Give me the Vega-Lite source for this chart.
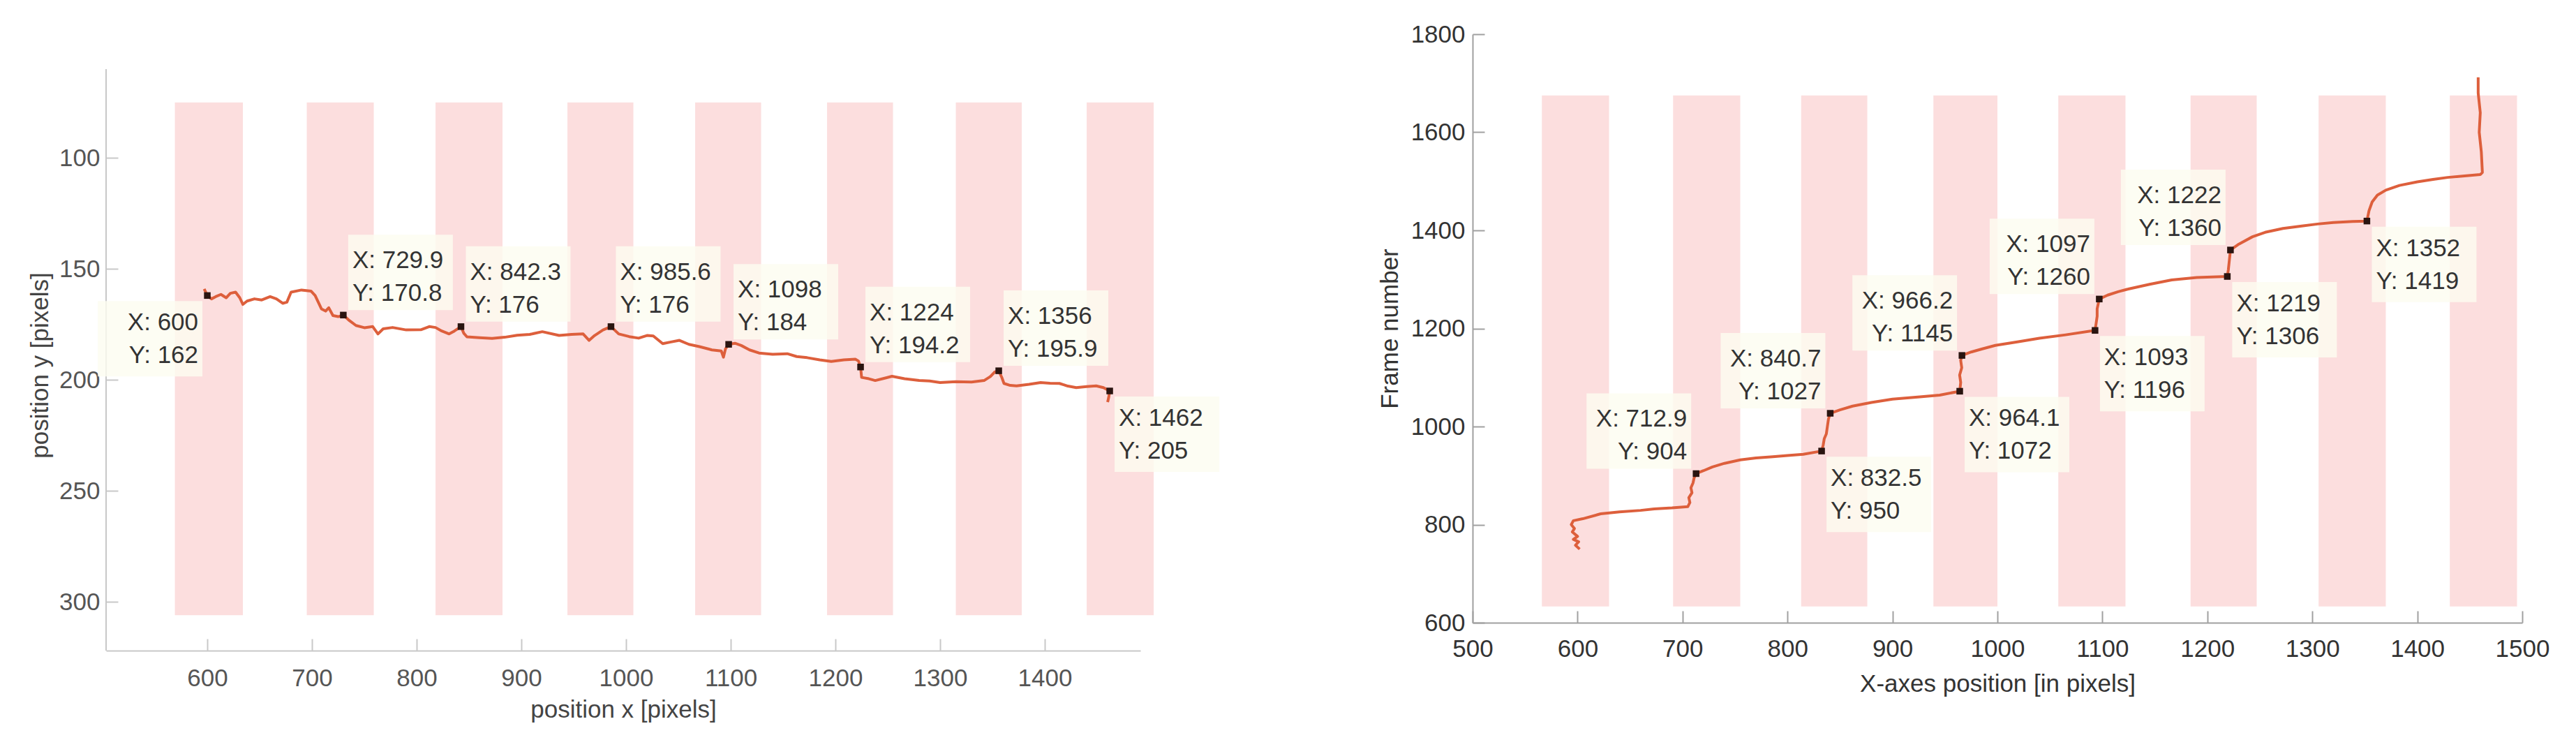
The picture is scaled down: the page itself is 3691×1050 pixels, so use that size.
{
  "$schema": "https://vega.github.io/schema/vega-lite/v6.json",
  "background": "white",
  "padding": {"left": 40, "top": 32, "right": 5, "bottom": 5},
  "config": {
    "view": {"stroke": null},
    "font": "Liberation Sans",
    "axis": {"grid": false, "labelFont": "Liberation Sans", "titleFont": "Liberation Sans", "labelFontSize": 35, "titleFontSize": 35, "titleFontWeight": "normal", "tickSize": -17, "labelFlush": false, "labelOverlap": false, "domainWidth": 2, "tickWidth": 2, "format": "d"}
  },
  "datasets": {
    "bandsL": [
      {"x": 569, "xe": 634, "y": 75, "ye": 306}, {"x": 695, "xe": 759, "y": 75, "ye": 306},
      {"x": 818, "xe": 882, "y": 75, "ye": 306}, {"x": 944, "xe": 1007, "y": 75, "ye": 306},
      {"x": 1066, "xe": 1129, "y": 75, "ye": 306}, {"x": 1192, "xe": 1255, "y": 75, "ye": 306},
      {"x": 1315, "xe": 1378, "y": 75, "ye": 306}, {"x": 1440, "xe": 1504, "y": 75, "ye": 306}
    ],
    "bandsR": [
      {"x": 566, "xe": 630, "y": 633, "ye": 1675}, {"x": 691, "xe": 755, "y": 633, "ye": 1675},
      {"x": 813, "xe": 876, "y": 633, "ye": 1675}, {"x": 939, "xe": 1000, "y": 633, "ye": 1675},
      {"x": 1058, "xe": 1122, "y": 633, "ye": 1675}, {"x": 1184, "xe": 1247, "y": 633, "ye": 1675},
      {"x": 1306, "xe": 1370, "y": 633, "ye": 1675}, {"x": 1431, "xe": 1495, "y": 633, "ye": 1675}
    ],
    "trajL": [
      {"i": 0, "x": 597, "y": 159}, {"i": 1, "x": 600, "y": 162}, {"i": 2, "x": 604, "y": 163.5}, {"i": 3, "x": 608, "y": 162.5},
      {"i": 4, "x": 613, "y": 161.5}, {"i": 5, "x": 618, "y": 163}, {"i": 6, "x": 622, "y": 161}, {"i": 7, "x": 627, "y": 160.5},
      {"i": 8, "x": 631, "y": 163}, {"i": 9, "x": 634, "y": 166}, {"i": 10, "x": 638, "y": 164.5}, {"i": 11, "x": 645, "y": 163.5},
      {"i": 12, "x": 652, "y": 164}, {"i": 13, "x": 660, "y": 162.5}, {"i": 14, "x": 666, "y": 163.5}, {"i": 15, "x": 672, "y": 165.5},
      {"i": 16, "x": 676, "y": 165}, {"i": 17, "x": 680, "y": 160.5}, {"i": 18, "x": 690, "y": 159.5}, {"i": 19, "x": 699, "y": 160},
      {"i": 20, "x": 703, "y": 162}, {"i": 21, "x": 706, "y": 165}, {"i": 22, "x": 709, "y": 168}, {"i": 23, "x": 713, "y": 169},
      {"i": 24, "x": 716, "y": 167.5}, {"i": 25, "x": 720, "y": 171}, {"i": 26, "x": 725, "y": 171.5}, {"i": 27, "x": 729.9, "y": 170.8},
      {"i": 28, "x": 735, "y": 173}, {"i": 29, "x": 742, "y": 175.5}, {"i": 30, "x": 750, "y": 176.5}, {"i": 31, "x": 758, "y": 176},
      {"i": 32, "x": 763, "y": 179.3}, {"i": 33, "x": 768, "y": 177}, {"i": 34, "x": 777, "y": 176.4}, {"i": 35, "x": 790, "y": 177.5},
      {"i": 36, "x": 804, "y": 177.4}, {"i": 37, "x": 812, "y": 176}, {"i": 38, "x": 818, "y": 176.4}, {"i": 39, "x": 824, "y": 178},
      {"i": 40, "x": 831, "y": 179.3}, {"i": 41, "x": 836, "y": 178}, {"i": 42, "x": 842.3, "y": 176}, {"i": 43, "x": 845, "y": 179},
      {"i": 44, "x": 848, "y": 180.6}, {"i": 45, "x": 860, "y": 181}, {"i": 46, "x": 872, "y": 181.3}, {"i": 47, "x": 884, "y": 180.8},
      {"i": 48, "x": 896, "y": 179.9}, {"i": 49, "x": 908, "y": 179.5}, {"i": 50, "x": 920, "y": 178.3}, {"i": 51, "x": 936, "y": 180},
      {"i": 52, "x": 948, "y": 179.5}, {"i": 53, "x": 959, "y": 179.3}, {"i": 54, "x": 964.7, "y": 182.2}, {"i": 55, "x": 970, "y": 180},
      {"i": 56, "x": 978, "y": 177.5}, {"i": 57, "x": 985.6, "y": 176}, {"i": 58, "x": 993, "y": 179.3}, {"i": 59, "x": 1003, "y": 180.5},
      {"i": 60, "x": 1012, "y": 181.2}, {"i": 61, "x": 1020, "y": 180}, {"i": 62, "x": 1026, "y": 180.2}, {"i": 63, "x": 1035, "y": 183.7},
      {"i": 64, "x": 1042, "y": 183}, {"i": 65, "x": 1051, "y": 182.2}, {"i": 66, "x": 1060, "y": 184}, {"i": 67, "x": 1070, "y": 185},
      {"i": 68, "x": 1082, "y": 186.5}, {"i": 69, "x": 1091, "y": 187}, {"i": 70, "x": 1093, "y": 189.8}, {"i": 71, "x": 1095, "y": 186},
      {"i": 72, "x": 1098, "y": 184}, {"i": 73, "x": 1104, "y": 183.5}, {"i": 74, "x": 1110, "y": 184.5}, {"i": 75, "x": 1118, "y": 186.5},
      {"i": 76, "x": 1127, "y": 187.9}, {"i": 77, "x": 1140, "y": 188.5}, {"i": 78, "x": 1154, "y": 188.2}, {"i": 79, "x": 1163, "y": 189.5},
      {"i": 80, "x": 1173, "y": 190}, {"i": 81, "x": 1185, "y": 191}, {"i": 82, "x": 1196, "y": 191.7}, {"i": 83, "x": 1208, "y": 191},
      {"i": 84, "x": 1219, "y": 190.7}, {"i": 85, "x": 1222, "y": 191.5}, {"i": 86, "x": 1224, "y": 194.2}, {"i": 87, "x": 1225, "y": 198.9},
      {"i": 88, "x": 1232, "y": 199.5}, {"i": 89, "x": 1238, "y": 200.3}, {"i": 90, "x": 1245, "y": 199.5}, {"i": 91, "x": 1254, "y": 198.4},
      {"i": 92, "x": 1266, "y": 199.5}, {"i": 93, "x": 1280, "y": 200.3}, {"i": 94, "x": 1290, "y": 200.5}, {"i": 95, "x": 1300, "y": 201.2},
      {"i": 96, "x": 1315, "y": 200.8}, {"i": 97, "x": 1330, "y": 201}, {"i": 98, "x": 1342, "y": 200.3}, {"i": 99, "x": 1348, "y": 198.5},
      {"i": 100, "x": 1352, "y": 196.5}, {"i": 101, "x": 1356, "y": 195.9}, {"i": 102, "x": 1359, "y": 199}, {"i": 103, "x": 1361, "y": 201.6},
      {"i": 104, "x": 1367, "y": 202.5}, {"i": 105, "x": 1373, "y": 202.7}, {"i": 106, "x": 1385, "y": 202}, {"i": 107, "x": 1396, "y": 201.2},
      {"i": 108, "x": 1405, "y": 201.5}, {"i": 109, "x": 1414, "y": 201.6}, {"i": 110, "x": 1422, "y": 202.8}, {"i": 111, "x": 1430, "y": 203.5},
      {"i": 112, "x": 1440, "y": 203}, {"i": 113, "x": 1449, "y": 202.7}, {"i": 114, "x": 1456, "y": 203.5}, {"i": 115, "x": 1462, "y": 205},
      {"i": 116, "x": 1461, "y": 208}, {"i": 117, "x": 1460, "y": 210}
    ],
    "trajR": [
      {"i": 0, "x": 602, "y": 750}, {"i": 1, "x": 598, "y": 758}, {"i": 2, "x": 601, "y": 765}, {"i": 3, "x": 596, "y": 770},
      {"i": 4, "x": 600, "y": 776}, {"i": 5, "x": 595, "y": 785}, {"i": 6, "x": 597, "y": 792}, {"i": 7, "x": 594, "y": 800},
      {"i": 8, "x": 596, "y": 808}, {"i": 9, "x": 605, "y": 812}, {"i": 10, "x": 622, "y": 822}, {"i": 11, "x": 640, "y": 826},
      {"i": 12, "x": 660, "y": 829}, {"i": 13, "x": 673, "y": 832}, {"i": 14, "x": 690, "y": 834}, {"i": 15, "x": 705, "y": 836.5},
      {"i": 16, "x": 707, "y": 845}, {"i": 17, "x": 706, "y": 855}, {"i": 18, "x": 709, "y": 865}, {"i": 19, "x": 708, "y": 875},
      {"i": 20, "x": 710, "y": 885}, {"i": 21, "x": 711, "y": 895}, {"i": 22, "x": 712.9, "y": 904}, {"i": 23, "x": 720, "y": 910},
      {"i": 24, "x": 728.5, "y": 917.7}, {"i": 25, "x": 740, "y": 925}, {"i": 26, "x": 755, "y": 932}, {"i": 27, "x": 770, "y": 936},
      {"i": 28, "x": 786, "y": 938.6}, {"i": 29, "x": 800, "y": 941}, {"i": 30, "x": 815, "y": 943.5}, {"i": 31, "x": 832.5, "y": 950},
      {"i": 32, "x": 834, "y": 962}, {"i": 33, "x": 835, "y": 975}, {"i": 34, "x": 837, "y": 985}, {"i": 35, "x": 838, "y": 1000},
      {"i": 36, "x": 839, "y": 1015}, {"i": 37, "x": 840.7, "y": 1027}, {"i": 38, "x": 850, "y": 1034}, {"i": 39, "x": 862, "y": 1041.6},
      {"i": 40, "x": 880, "y": 1049}, {"i": 41, "x": 900, "y": 1055.8}, {"i": 42, "x": 926, "y": 1060.6}, {"i": 43, "x": 945, "y": 1064},
      {"i": 44, "x": 964.1, "y": 1072}, {"i": 45, "x": 965, "y": 1090}, {"i": 46, "x": 964, "y": 1105}, {"i": 47, "x": 966, "y": 1120},
      {"i": 48, "x": 965, "y": 1135}, {"i": 49, "x": 966.2, "y": 1145}, {"i": 50, "x": 975, "y": 1152}, {"i": 51, "x": 985, "y": 1158},
      {"i": 52, "x": 998, "y": 1165.5}, {"i": 53, "x": 1020, "y": 1173}, {"i": 54, "x": 1040, "y": 1180}, {"i": 55, "x": 1065, "y": 1187},
      {"i": 56, "x": 1093, "y": 1196}, {"i": 57, "x": 1094, "y": 1210}, {"i": 58, "x": 1095, "y": 1225}, {"i": 59, "x": 1095, "y": 1240},
      {"i": 60, "x": 1097, "y": 1260}, {"i": 61, "x": 1105, "y": 1268}, {"i": 62, "x": 1115, "y": 1275}, {"i": 63, "x": 1124, "y": 1280},
      {"i": 64, "x": 1145, "y": 1290}, {"i": 65, "x": 1166, "y": 1299}, {"i": 66, "x": 1190, "y": 1304}, {"i": 67, "x": 1219, "y": 1306},
      {"i": 68, "x": 1220, "y": 1320}, {"i": 69, "x": 1221, "y": 1340}, {"i": 70, "x": 1222, "y": 1360}, {"i": 71, "x": 1230, "y": 1372},
      {"i": 72, "x": 1243, "y": 1387}, {"i": 73, "x": 1255, "y": 1396}, {"i": 74, "x": 1272, "y": 1404}, {"i": 75, "x": 1290, "y": 1409},
      {"i": 76, "x": 1305, "y": 1413}, {"i": 77, "x": 1320, "y": 1416}, {"i": 78, "x": 1338.5, "y": 1418}, {"i": 79, "x": 1352, "y": 1419},
      {"i": 80, "x": 1354, "y": 1440}, {"i": 81, "x": 1357, "y": 1458}, {"i": 82, "x": 1362, "y": 1472}, {"i": 83, "x": 1370, "y": 1482},
      {"i": 84, "x": 1383, "y": 1491.6}, {"i": 85, "x": 1400, "y": 1499}, {"i": 86, "x": 1415, "y": 1504}, {"i": 87, "x": 1429, "y": 1508},
      {"i": 88, "x": 1445, "y": 1511}, {"i": 89, "x": 1460, "y": 1514}, {"i": 90, "x": 1462, "y": 1518}, {"i": 91, "x": 1461, "y": 1560},
      {"i": 92, "x": 1459, "y": 1600}, {"i": 93, "x": 1460, "y": 1640}, {"i": 94, "x": 1458, "y": 1680}, {"i": 95, "x": 1458, "y": 1712}
    ],
    "tipsL": [
      {"x": 600, "y": 162, "label": "X: 600\nY: 162", "side": "ll"},
      {"x": 729.9, "y": 170.8, "label": "X: 729.9\nY: 170.8", "side": "ur"},
      {"x": 842.3, "y": 176, "label": "X: 842.3\nY: 176", "side": "ur"},
      {"x": 985.6, "y": 176, "label": "X: 985.6\nY: 176", "side": "ur"},
      {"x": 1098, "y": 184, "label": "X: 1098\nY: 184", "side": "ur"},
      {"x": 1224, "y": 194.2, "label": "X: 1224\nY: 194.2", "side": "ur"},
      {"x": 1356, "y": 195.9, "label": "X: 1356\nY: 195.9", "side": "ur"},
      {"x": 1462, "y": 205, "label": "X: 1462\nY: 205", "side": "lr"}
    ],
    "tipsR": [
      {"x": 712.9, "y": 904, "label": "X: 712.9\nY: 904", "side": "ul"},
      {"x": 840.7, "y": 1027, "label": "X: 840.7\nY: 1027", "side": "ul"},
      {"x": 832.5, "y": 950, "label": "X: 832.5\nY: 950", "side": "lr"},
      {"x": 966.2, "y": 1145, "label": "X: 966.2\nY: 1145", "side": "ul"},
      {"x": 964.1, "y": 1072, "label": "X: 964.1\nY: 1072", "side": "lr"},
      {"x": 1097, "y": 1260, "label": "X: 1097\nY: 1260", "side": "ul"},
      {"x": 1093, "y": 1196, "label": "X: 1093\nY: 1196", "side": "lr"},
      {"x": 1222, "y": 1360, "label": "X: 1222\nY: 1360", "side": "ul"},
      {"x": 1219, "y": 1306, "label": "X: 1219\nY: 1306", "side": "lr"},
      {"x": 1352, "y": 1419, "label": "X: 1352\nY: 1419", "side": "lr"}
    ]
  },
  "spacing": 476,
  "bounds": "flush",
  "hconcat": [
    {
      "width": 1482,
      "height": 883,
      "encoding": {
        "x": {"field": "x", "type": "quantitative", "title": "position x [pixels]",
          "scale": {"domain": [503.3, 1491.3], "nice": false, "zero": false},
          "axis": {"values": [600, 700, 800, 900, 1000, 1100, 1200, 1300, 1400], "domainColor": "#c8c8c8", "tickColor": "#c8c8c8", "labelColor": "#555555", "titleColor": "#444444", "labelPadding": 39, "titlePadding": 10}},
        "y": {"field": "y", "type": "quantitative", "title": "position y [pixels]",
          "scale": {"domain": [44.25, 322], "reverse": true, "nice": false, "zero": false},
          "axis": {"values": [100, 150, 200, 250, 300], "domain": false, "tickColor": "#c8c8c8", "labelColor": "#555555", "titleColor": "#444444", "labelPadding": 26, "titlePadding": 9, "titleY": 474}}
      },
      "layer": [
        {"data": {"name": "bandsL"}, "mark": {"type": "rect", "color": "#fcdede"},
         "encoding": {"x2": {"field": "xe"}, "y2": {"field": "ye"}}},
        {"data": {"values": [{"x": 503.3, "y": 60, "ye": 322}]}, "mark": {"type": "rule", "color": "#c8c8c8", "strokeWidth": 2},
         "encoding": {"y2": {"field": "ye"}}},
        {"data": {"name": "trajL"}, "mark": {"type": "line", "color": "#dd5f3c", "strokeWidth": 4, "strokeJoin": "round"},
         "encoding": {"order": {"field": "i", "type": "quantitative"}}},
        {"data": {"name": "tipsL"}, "transform": [{"filter": "datum.side === 'ur'"}],
         "mark": {"type": "point", "shape": "M-1,-0.72L1,-0.72L1,0.72L-1,0.72Z", "size": 22500, "filled": true, "color": "#fdfdf0", "opacity": 0.8, "xOffset": 82, "yOffset": -61}},
        {"data": {"name": "tipsL"}, "transform": [{"filter": "datum.side === 'lr'"}],
         "mark": {"type": "point", "shape": "M-1,-0.72L1,-0.72L1,0.72L-1,0.72Z", "size": 22500, "filled": true, "color": "#fdfdf0", "opacity": 0.8, "xOffset": 82, "yOffset": 62}},
        {"data": {"name": "tipsL"}, "transform": [{"filter": "datum.side === 'll'"}],
         "mark": {"type": "point", "shape": "M-1,-0.72L1,-0.72L1,0.72L-1,0.72Z", "size": 22500, "filled": true, "color": "#fdfdf0", "opacity": 0.8, "xOffset": -82, "yOffset": 62}},
        {"data": {"name": "tipsL"}, "transform": [{"filter": "datum.side === 'ur'"}],
         "mark": {"type": "text", "align": "left", "baseline": "top", "dx": 13, "dy": -95, "fontSize": 35, "lineHeight": 47, "lineBreak": "\n", "color": "#333333"},
         "encoding": {"text": {"field": "label"}}},
        {"data": {"name": "tipsL"}, "transform": [{"filter": "datum.side === 'lr'"}],
         "mark": {"type": "text", "align": "left", "baseline": "top", "dx": 13, "dy": 22, "fontSize": 35, "lineHeight": 47, "lineBreak": "\n", "color": "#333333"},
         "encoding": {"text": {"field": "label"}}},
        {"data": {"name": "tipsL"}, "transform": [{"filter": "datum.side === 'll'"}],
         "mark": {"type": "text", "align": "right", "baseline": "top", "dx": -13, "dy": 22, "fontSize": 35, "lineHeight": 47, "lineBreak": "\n", "color": "#333333"},
         "encoding": {"text": {"field": "label"}}},
        {"data": {"name": "tipsL"}, "mark": {"type": "point", "shape": "square", "size": 90, "filled": true, "color": "#2a1410", "opacity": 1}}
      ]
    },
    {
      "width": 1504,
      "height": 843,
      "encoding": {
        "x": {"field": "x", "type": "quantitative", "title": "X-axes position [in pixels]",
          "scale": {"domain": [500, 1500], "nice": false, "zero": false},
          "axis": {"values": [500, 600, 700, 800, 900, 1000, 1100, 1200, 1300, 1400, 1500], "domainColor": "#a0a0a0", "tickColor": "#a0a0a0", "labelColor": "#333333", "titleColor": "#333333", "labelPadding": 37, "titlePadding": 15}},
        "y": {"field": "y", "type": "quantitative", "title": "Frame number",
          "scale": {"domain": [600, 1800], "nice": false, "zero": false},
          "axis": {"values": [600, 800, 1000, 1200, 1400, 1600, 1800], "domainColor": "#a0a0a0", "tickColor": "#a0a0a0", "labelColor": "#333333", "titleColor": "#333333", "labelPadding": 28, "titlePadding": 12}}
      },
      "layer": [
        {"data": {"name": "bandsR"}, "mark": {"type": "rect", "color": "#fcdede"},
         "encoding": {"x2": {"field": "xe"}, "y2": {"field": "ye"}}},
        {"data": {"name": "trajR"}, "mark": {"type": "line", "color": "#dd5f3c", "strokeWidth": 4, "strokeJoin": "round"},
         "encoding": {"order": {"field": "i", "type": "quantitative"}}},
        {"data": {"name": "tipsR"}, "transform": [{"filter": "datum.side === 'ul'"}],
         "mark": {"type": "point", "shape": "M-1,-0.72L1,-0.72L1,0.72L-1,0.72Z", "size": 22500, "filled": true, "color": "#fdfdf0", "opacity": 0.8, "xOffset": -82, "yOffset": -61}},
        {"data": {"name": "tipsR"}, "transform": [{"filter": "datum.side === 'lr'"}],
         "mark": {"type": "point", "shape": "M-1,-0.72L1,-0.72L1,0.72L-1,0.72Z", "size": 22500, "filled": true, "color": "#fdfdf0", "opacity": 0.8, "xOffset": 82, "yOffset": 62}},
        {"data": {"name": "tipsR"}, "transform": [{"filter": "datum.side === 'ul'"}],
         "mark": {"type": "text", "align": "right", "baseline": "top", "dx": -13, "dy": -95, "fontSize": 35, "lineHeight": 47, "lineBreak": "\n", "color": "#333333"},
         "encoding": {"text": {"field": "label"}}},
        {"data": {"name": "tipsR"}, "transform": [{"filter": "datum.side === 'lr'"}],
         "mark": {"type": "text", "align": "left", "baseline": "top", "dx": 13, "dy": 22, "fontSize": 35, "lineHeight": 47, "lineBreak": "\n", "color": "#333333"},
         "encoding": {"text": {"field": "label"}}},
        {"data": {"name": "tipsR"}, "mark": {"type": "point", "shape": "square", "size": 90, "filled": true, "color": "#2a1410", "opacity": 1}}
      ]
    }
  ]
}
